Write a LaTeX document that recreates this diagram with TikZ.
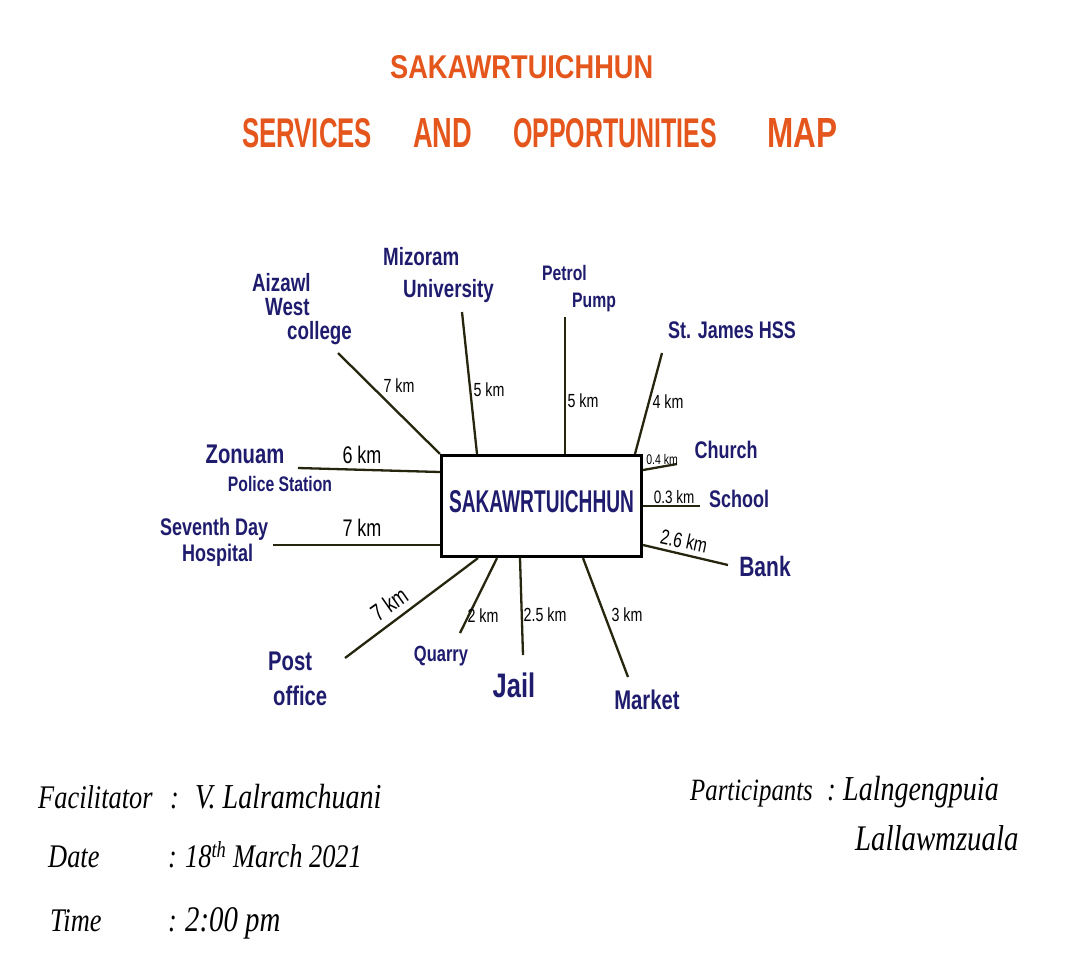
\documentclass[tikz,border=0pt]{standalone}
\usepackage{fontspec}
\usepackage{graphicx}
\setmainfont{Liberation Sans}
% narrow, tall lettering for the map labels
\newfontfamily\marker[FakeStretch=0.75]{Liberation Sans}
% narrow italic for the session details
\newfontfamily\hand[FakeStretch=0.8]{Liberation Serif}
\definecolor{ink}{HTML}{1F1C6E}
\definecolor{titlered}{HTML}{E5561C}
\definecolor{wire}{HTML}{26260F}
\begin{document}
\begin{tikzpicture}[x=1pt,y=-1pt,
  place/.style={text=ink, inner sep=0pt, align=left,
    font=\marker\bfseries\fontsize{#1}{#1}\selectfont},
  place/.default=24,
  dist/.style={text=black, inner sep=0pt,
    font=\marker\fontsize{#1}{#1}\selectfont},
  dist/.default=19,
  link/.style={draw=wire, line width=2.3pt},
  heading/.style={text=titlered, font=\bfseries, inner sep=0pt, anchor=base west},
  note/.style={font=\hand\itshape\fontsize{#1}{#1}\selectfont, anchor=base west, inner sep=0pt},
  note/.default=33]

\path[use as bounding box, fill=white] (0,0) rectangle (1076,972);

% Title
\node[heading] (title1) at (390,78) {\resizebox{263pt}{23pt}{SAKAWRTUICHHUN}};
\node[heading] (title2) at (242,147)
  {\resizebox{130pt}{29pt}{SERVICES}\hspace{41pt}%
   \resizebox{59pt}{29pt}{AND}\hspace{41pt}%
   \resizebox{204pt}{29pt}{OPPORTUNITIES}\hspace{50pt}%
   \resizebox{70pt}{29pt}{MAP}};

% Central village box
\node[draw=black, line width=3.2pt, minimum width=200pt, minimum height=101pt,
      inner sep=0pt, text=ink, font=\bfseries] (hub) at (541.5,506)
  {\raisebox{10pt}{\resizebox{185pt}{22pt}{SAKAWRTUICHHUN}}};

% Places
\node[place=25, anchor=north west] (aizawl) at (252,273)
  {Aizawl\\[-1pt]\hspace*{13pt}West\\[-1pt]\hspace*{35pt}college};
\node[place=25, anchor=north west] (mizoram) at (383,247)
  {Mizoram\\[7pt]\hspace*{20pt}University};
\node[place=21, anchor=north west] (petrol) at (542,265)
  {Petrol\\[6pt]\hspace*{30pt}Pump};
\node[place] (stjames) at (732,330) {St. James HSS};
\node[place] (church) at (726,450) {Church};
\node[place] (school) at (739,499) {School};
\node[place=28] (bank) at (765,566) {Bank};
\node[place=27] (zonuam) at (245,454) {Zonuam};
\node[place=21] (police) at (280,484) {Police Station};
\node[place=24, anchor=north west] (hospital) at (160,518)
  {Seventh Day\\[2pt]\hspace*{22pt}Hospital};
\node[place=27, anchor=north west] (post) at (268,652)
  {Post\\[8pt]\hspace*{5pt}office};
\node[place=22] (quarry) at (441,656) {Quarry};
\node[place=34] (jail) at (514,685) {Jail};
\node[place=27] (market) at (647,700) {Market};

% Free ends of the spokes
\coordinate (aizawlEnd) at (338,353);
\coordinate (mizoramEnd) at (462,312);
\coordinate (petrolEnd) at (565,317);
\coordinate (stjamesEnd) at (662,353);
\coordinate (churchEnd) at (677,464);
\coordinate (schoolEnd) at (700,506);
\coordinate (bankEnd) at (728,565);
\coordinate (zonuamEnd) at (298,468);
\coordinate (hospitalEnd) at (273,545);
\coordinate (postEnd) at (345,658);
\coordinate (quarryEnd) at (460,633);
\coordinate (jailEnd) at (523,655);
\coordinate (marketEnd) at (628,677);

% Spokes from the box
\draw[link] (hub.north west) -- (aizawlEnd);
\draw[link] (hub.north -| 477,0) -- (mizoramEnd);
\draw[link] (hub.north -| 565,0) -- (petrolEnd);
\draw[link] (hub.north -| 635,0) -- (stjamesEnd);
\draw[link] (hub.east |- 0,470) -- (churchEnd);
\draw[link] (hub.east |- 0,506) -- (schoolEnd);
\draw[link] (hub.east |- 0,545) -- (bankEnd);
\draw[link] (hub.west |- 0,472) -- (zonuamEnd);
\draw[link] (hub.west |- 0,545) -- (hospitalEnd);
\draw[link] (hub.south -| 478,0) -- (postEnd);
\draw[link] (hub.south -| 497,0) -- (quarryEnd);
\draw[link] (hub.south -| 520,0) -- (jailEnd);
\draw[link] (hub.south -| 583,0) -- (marketEnd);

% Distances
\node[dist] (dAizawl) at (399,386) {7 km};
\node[dist] (dMizoram) at (489,390) {5 km};
\node[dist] (dPetrol) at (583,401) {5 km};
\node[dist] (dStjames) at (668,402) {4 km};
\node[dist=14] (dChurch) at (662,459) {0.4 km};
\node[dist=18] (dSchool) at (674,497) {0.3 km};
\node[dist=21, rotate=-12] (dBank) at (684,541) {2.6 km};
\node[dist=24] (dZonuam) at (362,455) {6 km};
\node[dist=24] (dHospital) at (362,528) {7 km};
\node[dist=24, rotate=35] (dPost) at (389,604) {7 km};
\node[dist] (dQuarry) at (483,616) {2 km};
\node[dist] (dJail) at (545,615) {2.5 km};
\node[dist] (dMarket) at (627,615) {3 km};

% Session details
\node[note] (facLab) at (38,808) {Facilitator};
\node[note] (facCol) at (170,808) {:};
\node[note=35] (facVal) at (195,808) {V. Lalramchuani};
\node[note] (dateLab) at (48,867) {Date};
\node[note] (dateCol) at (168,867) {:};
\node[note] (dateVal) at (185,867) {18\textsuperscript{th} March 2021};
\node[note] (timeLab) at (50,931) {Time};
\node[note] (timeCol) at (168,931) {:};
\node[note=36] (timeVal) at (185,931) {2:00 pm};
\node[note=31] (partLab) at (690,800) {Participants};
\node[note] (partCol) at (827,800) {:};
\node[note=35] (partVal) at (843,800) {Lalngengpuia};
\node[note=36] (partVal2) at (855,850) {Lallawmzuala};
\end{tikzpicture}
\end{document}
